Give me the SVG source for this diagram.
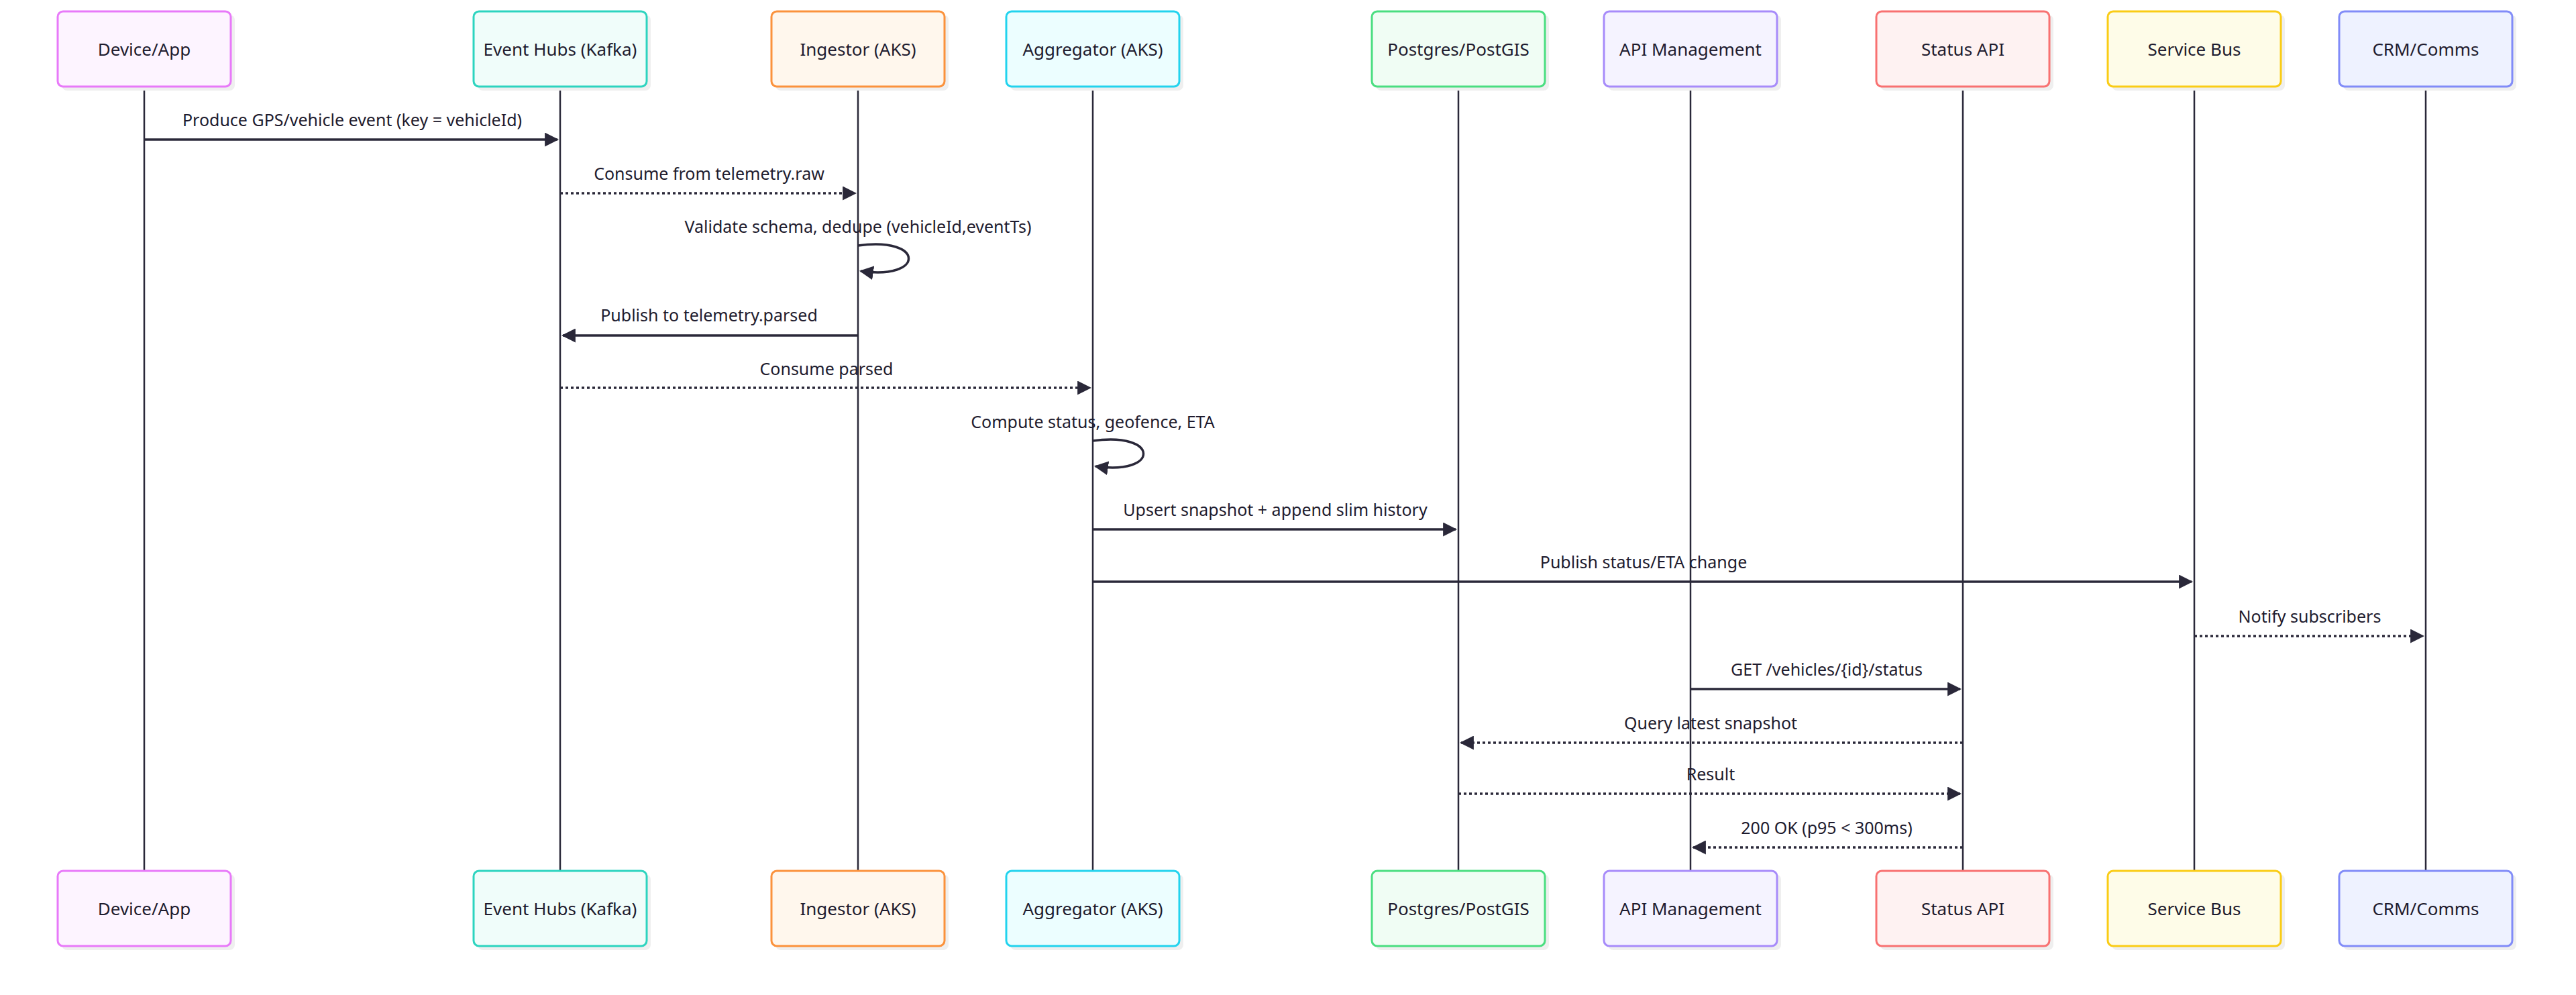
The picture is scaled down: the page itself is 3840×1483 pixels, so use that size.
<svg xmlns="http://www.w3.org/2000/svg" width="3840" height="1483" viewBox="0 0 3840 1483">
<style>
.box{stroke-width:3}
.sh{fill:#efefef}
.nt{font-family:"Noto Sans","Liberation Sans",sans-serif;font-size:26px;fill:#1e1b2e;text-anchor:middle;dominant-baseline:central}
.life{stroke:#2a2839;stroke-width:2.5}
.m{stroke:#2a2839;stroke-width:3.5;fill:none;marker-end:url(#ah)}
.d{stroke-dasharray:4 4}
.ml{font-family:"Noto Sans","Liberation Sans",sans-serif;font-size:25px;fill:#1e1b2e;text-anchor:middle}
</style>
<defs>
<marker id="ah" viewBox="0 0 10 10" refX="9" refY="5" markerWidth="6" markerHeight="6" markerUnits="strokeWidth" orient="auto"><path d="M0,0 L10,5 L0,10 z" fill="#2a2839"/></marker>
</defs>
<rect width="3840" height="1483" fill="#fff"/>
<g id="lifelines">
<line class="life" x1="215" y1="130" x2="215" y2="1297"/>
<line class="life" x1="835" y1="130" x2="835" y2="1297"/>
<line class="life" x1="1279" y1="130" x2="1279" y2="1297"/>
<line class="life" x1="1629" y1="130" x2="1629" y2="1297"/>
<line class="life" x1="2174" y1="130" x2="2174" y2="1297"/>
<line class="life" x1="2520" y1="130" x2="2520" y2="1297"/>
<line class="life" x1="2926" y1="130" x2="2926" y2="1297"/>
<line class="life" x1="3271" y1="130" x2="3271" y2="1297"/>
<line class="life" x1="3616" y1="130" x2="3616" y2="1297"/>
</g>
<g id="device">
<rect class="sh" x="92" y="22" width="258" height="113" rx="8"/><rect class="box" x="86" y="17" width="258" height="112" rx="8" fill="#fdf4ff" stroke="#e879f9"/><text class="nt" x="215" y="73">Device/App</text>
<rect class="sh" x="92" y="1303" width="258" height="113" rx="8"/><rect class="box" x="86" y="1298" width="258" height="112" rx="8" fill="#fdf4ff" stroke="#e879f9"/><text class="nt" x="215" y="1354">Device/App</text>
</g>
<g id="eventhubs">
<rect class="sh" x="712" y="22" width="258" height="113" rx="8"/><rect class="box" x="706" y="17" width="258" height="112" rx="8" fill="#f0fdfa" stroke="#2dd4bf"/><text class="nt" x="835" y="73">Event Hubs (Kafka)</text>
<rect class="sh" x="712" y="1303" width="258" height="113" rx="8"/><rect class="box" x="706" y="1298" width="258" height="112" rx="8" fill="#f0fdfa" stroke="#2dd4bf"/><text class="nt" x="835" y="1354">Event Hubs (Kafka)</text>
</g>
<g id="ingestor">
<rect class="sh" x="1156" y="22" width="258" height="113" rx="8"/><rect class="box" x="1150" y="17" width="258" height="112" rx="8" fill="#fff7ed" stroke="#fb923c"/><text class="nt" x="1279" y="73">Ingestor (AKS)</text>
<rect class="sh" x="1156" y="1303" width="258" height="113" rx="8"/><rect class="box" x="1150" y="1298" width="258" height="112" rx="8" fill="#fff7ed" stroke="#fb923c"/><text class="nt" x="1279" y="1354">Ingestor (AKS)</text>
</g>
<g id="aggregator">
<rect class="sh" x="1506" y="22" width="258" height="113" rx="8"/><rect class="box" x="1500" y="17" width="258" height="112" rx="8" fill="#ecfeff" stroke="#22d3ee"/><text class="nt" x="1629" y="73">Aggregator (AKS)</text>
<rect class="sh" x="1506" y="1303" width="258" height="113" rx="8"/><rect class="box" x="1500" y="1298" width="258" height="112" rx="8" fill="#ecfeff" stroke="#22d3ee"/><text class="nt" x="1629" y="1354">Aggregator (AKS)</text>
</g>
<g id="postgres">
<rect class="sh" x="2051" y="22" width="258" height="113" rx="8"/><rect class="box" x="2045" y="17" width="258" height="112" rx="8" fill="#f0fdf4" stroke="#4ade80"/><text class="nt" x="2174" y="73">Postgres/PostGIS</text>
<rect class="sh" x="2051" y="1303" width="258" height="113" rx="8"/><rect class="box" x="2045" y="1298" width="258" height="112" rx="8" fill="#f0fdf4" stroke="#4ade80"/><text class="nt" x="2174" y="1354">Postgres/PostGIS</text>
</g>
<g id="apim">
<rect class="sh" x="2397" y="22" width="258" height="113" rx="8"/><rect class="box" x="2391" y="17" width="258" height="112" rx="8" fill="#f5f3ff" stroke="#a78bfa"/><text class="nt" x="2520" y="73">API Management</text>
<rect class="sh" x="2397" y="1303" width="258" height="113" rx="8"/><rect class="box" x="2391" y="1298" width="258" height="112" rx="8" fill="#f5f3ff" stroke="#a78bfa"/><text class="nt" x="2520" y="1354">API Management</text>
</g>
<g id="statusapi">
<rect class="sh" x="2803" y="22" width="258" height="113" rx="8"/><rect class="box" x="2797" y="17" width="258" height="112" rx="8" fill="#fef2f2" stroke="#f87171"/><text class="nt" x="2926" y="73">Status API</text>
<rect class="sh" x="2803" y="1303" width="258" height="113" rx="8"/><rect class="box" x="2797" y="1298" width="258" height="112" rx="8" fill="#fef2f2" stroke="#f87171"/><text class="nt" x="2926" y="1354">Status API</text>
</g>
<g id="servicebus">
<rect class="sh" x="3148" y="22" width="258" height="113" rx="8"/><rect class="box" x="3142" y="17" width="258" height="112" rx="8" fill="#fefce8" stroke="#facc15"/><text class="nt" x="3271" y="73">Service Bus</text>
<rect class="sh" x="3148" y="1303" width="258" height="113" rx="8"/><rect class="box" x="3142" y="1298" width="258" height="112" rx="8" fill="#fefce8" stroke="#facc15"/><text class="nt" x="3271" y="1354">Service Bus</text>
</g>
<g id="crm">
<rect class="sh" x="3493" y="22" width="258" height="113" rx="8"/><rect class="box" x="3487" y="17" width="258" height="112" rx="8" fill="#eef2ff" stroke="#818cf8"/><text class="nt" x="3616" y="73">CRM/Comms</text>
<rect class="sh" x="3493" y="1303" width="258" height="113" rx="8"/><rect class="box" x="3487" y="1298" width="258" height="112" rx="8" fill="#eef2ff" stroke="#818cf8"/><text class="nt" x="3616" y="1354">CRM/Comms</text>
</g>
<g id="connectors">
<text class="ml" x="525" y="188">Produce GPS/vehicle event (key = vehicleId)</text>
<line class="m" x1="215" y1="208" x2="831" y2="208"/>
<text class="ml" x="1057" y="268">Consume from telemetry.raw</text>
<line class="m d" x1="835" y1="288" x2="1275" y2="288"/>
<text class="ml" x="1279" y="347">Validate schema, dedupe (vehicleId,eventTs)</text>
<path class="m" d="M1279,366 C1379,352 1379,418 1283,404"/>
<text class="ml" x="1057" y="479">Publish to telemetry.parsed</text>
<line class="m" x1="1279" y1="500" x2="839" y2="500"/>
<text class="ml" x="1232" y="559">Consume parsed</text>
<line class="m d" x1="835" y1="578" x2="1625" y2="578"/>
<text class="ml" x="1629" y="638">Compute status, geofence, ETA</text>
<path class="m" d="M1629,657 C1729,643 1729,709 1633,695"/>
<text class="ml" x="1901" y="769">Upsert snapshot + append slim history</text>
<line class="m" x1="1629" y1="789" x2="2170" y2="789"/>
<text class="ml" x="2450" y="847">Publish status/ETA change</text>
<line class="m" x1="1629" y1="867" x2="3267" y2="867"/>
<text class="ml" x="3443" y="928">Notify subscribers</text>
<line class="m d" x1="3271" y1="948" x2="3612" y2="948"/>
<text class="ml" x="2723" y="1007">GET /vehicles/{id}/status</text>
<line class="m" x1="2520" y1="1027" x2="2922" y2="1027"/>
<text class="ml" x="2550" y="1087">Query latest snapshot</text>
<line class="m d" x1="2926" y1="1107" x2="2178" y2="1107"/>
<text class="ml" x="2550" y="1163">Result</text>
<line class="m d" x1="2174" y1="1183" x2="2922" y2="1183"/>
<text class="ml" x="2723" y="1243">200 OK (p95 &lt; 300ms)</text>
<line class="m d" x1="2926" y1="1263" x2="2524" y2="1263"/>
</g>
</svg>
